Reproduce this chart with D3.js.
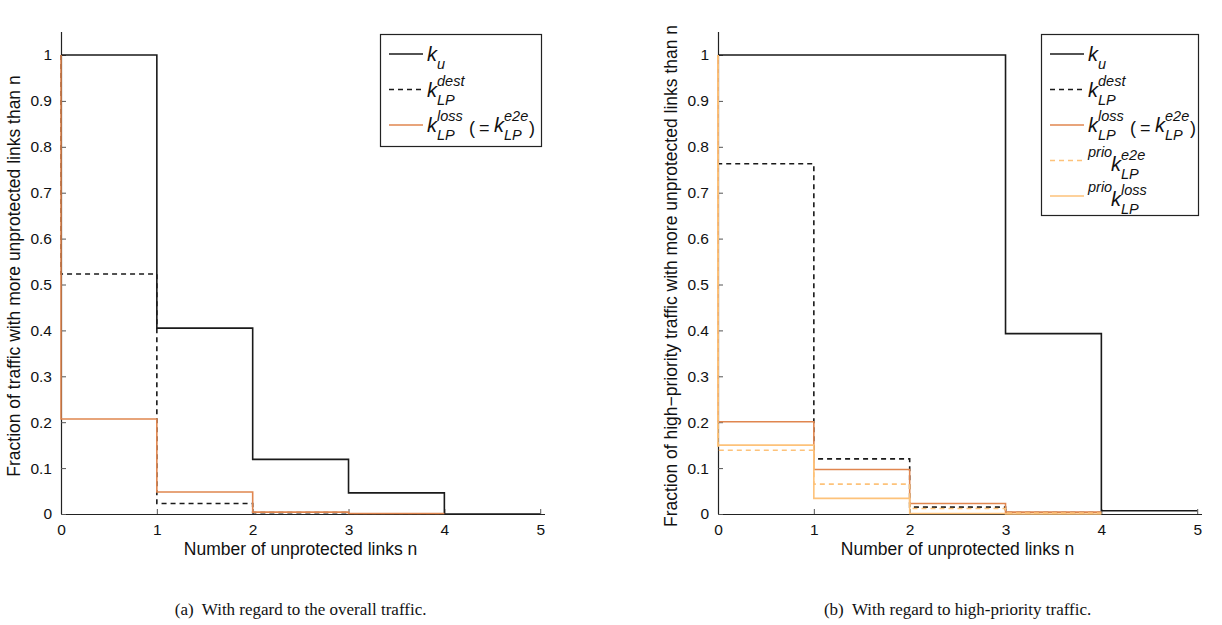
<!DOCTYPE html>
<html><head><meta charset="utf-8">
<script src="https://cdn.jsdelivr.net/npm/d3@7"></script>
<style>
body{margin:0;background:#fff;}
</style></head>
<body><svg id="c" width="1222" height="625" font-family="Liberation Sans, Arial, Helvetica, sans-serif"></svg>
<script>
// ---- data ----
const xTicks = [0,1,2,3,4,5];
const yTicks = [0,0.1,0.2,0.3,0.4,0.5,0.6,0.7,0.8,0.9,1];
const yTickLabels = ["0","0.1","0.2","0.3","0.4","0.5","0.6","0.7","0.8","0.9","1"];
// step values over [n, n+1), starting from (0,1)
const aKu    = [1, 0.405, 0.119, 0.046, 0];
const aDest  = [0.523, 0.023, 0.003, 0];
const aLoss  = [0.207, 0.048, 0.004, 0.001];
const bKu    = [1, 1, 1, 0.393, 0.007];
const bDest  = [0.763, 0.120, 0.015, 0.003];
const bLoss  = [0.201, 0.097, 0.023, 0.004];
const bPrioE2e  = [0.139, 0.065, 0.012, 0.002];
const bPrioLoss = [0.150, 0.034, 0.001, 0];
const xLabel = "Number of unprotected links n";
const yLabelA = "Fraction of traffic with more unprotected links than n";
const yLabelB = "Fraction of high\u2212priority traffic with more unprotected links than n";
const captionA = "(a)\u00a0 With regard to the overall traffic.";
const captionB = "(b)\u00a0 With regard to high-priority traffic.";

const C_BLACK = "#1a1a1a", C_ORANGE = "#e0864f", C_LIGHT = "#fdc27a";
const svg = d3.select("#c");

function stairs(vals){
  const pts = [[0,1]];
  vals.forEach((v,i)=>pts.push([i,v]));
  pts.push([vals.length, vals[vals.length-1]]);
  return pts;
}

function panel(opt){
  const g = svg.append("g");
  const x = d3.scaleLinear().domain([0,5.05]).range([opt.x0, opt.x0+484]);
  const y = d3.scaleLinear().domain([0,1.05]).range([514, 514-459*1.05]);
  const ax = d3.axisBottom(x).tickValues(xTicks).tickSize(-5).tickPadding(10).tickFormat(d3.format("d"));
  const ay = d3.axisLeft(y).tickValues(yTicks).tickSize(-5).tickPadding(9).tickFormat((d,i)=>yTickLabels[i]);
  const gx = g.append("g").attr("transform",`translate(0,${y(0)})`).call(ax);
  const gy = g.append("g").attr("transform",`translate(${x(0)},0)`).call(ay);
  [gx,gy].forEach(a=>{
    a.attr("font-family",null).attr("font-size",15.5);
    a.select(".domain").attr("stroke","#222").attr("stroke-width",1.2);
    a.selectAll(".tick line").attr("stroke","#555").attr("stroke-width",1);
    a.selectAll(".tick text").attr("fill","#111");
  });
  gx.select(".domain").attr("d",`M${x(0)},0.5H${x(5.05)}`);
  gy.select(".domain").attr("d",`M0.5,${y(0)}V${y(1.05)}`);
  const line = d3.line().x(d=>x(d[0])).y(d=>y(d[1])).curve(d3.curveStepAfter);
  opt.series.forEach(s=>{
    g.append("path").attr("d",line(stairs(s.vals))).attr("fill","none")
      .attr("stroke",s.color).attr("stroke-width",1.6)
      .attr("stroke-dasharray",s.dash?"5,4":null);
  });
  g.append("text").attr("x",x(2.5)).attr("y",555).attr("text-anchor","middle")
    .attr("font-size",17.5).attr("fill","#111").text(xLabel);
  g.append("text").attr("transform",`translate(${opt.x0-41},276) rotate(-90)`)
    .attr("text-anchor","middle").attr("font-size",17.5).attr("fill","#111").text(opt.ylabel);
  svg.append("text").attr("x",x(2.5)).attr("y",615).attr("text-anchor","middle")
    .attr("font-family","Liberation Serif, Times New Roman, serif").attr("font-size",17)
    .attr("fill","#111").text(opt.caption);
  const L = opt.legend;
  const lg = g.append("g");
  lg.append("rect").attr("x",L.x+0.5).attr("y",L.y+0.5).attr("width",L.w).attr("height",L.h)
    .attr("fill","#fff").attr("stroke","#222").attr("stroke-width",1.2);
  opt.series.forEach((s,i)=>{
    const ry = L.y + 20 + i*35.5;
    lg.append("line").attr("x1",L.x+9).attr("x2",L.x+43).attr("y1",ry).attr("y2",ry)
      .attr("stroke",s.color).attr("stroke-width",1.6).attr("stroke-dasharray",s.dash?"5,4":null);
    drawLabel(lg, s.label, L.x, ry);
  });
}

function T(g,x,y,txt,size,italic){
  return g.append("text").attr("x",x).attr("y",y).attr("font-size",size)
    .attr("font-style",italic?"italic":"normal").attr("fill","#111").text(txt);
}
function kSym(g,x,ry,sup,sub){
  T(g,x,ry+7,"k",20,true);
  if(sup) T(g,x+10,ry-4,sup,14.5,true);
  if(sub) T(g,x+10,ry+15,sub,14.5,true);
}
function drawLabel(g,lab,bx,ry){
  const x = bx+47;
  if(lab==="ku"){ kSym(g,x,ry,null,"u"); }
  else if(lab==="dest"){ kSym(g,x,ry,"dest","LP"); }
  else if(lab==="loss"){
    kSym(g,x,ry,"loss","LP");
    T(g,bx+89,ry+9,"(",18,false);
    T(g,bx+99,ry+9,"=",18,false);
    kSym(g,bx+114,ry,"e2e","LP");
    T(g,bx+149,ry+9,")",18,false);
  }
  else if(lab==="prioe2e"){ T(g,x,ry-4,"prio",14.5,true); kSym(g,x+23,ry+3,"e2e","LP"); }
  else if(lab==="prioloss"){ T(g,x,ry-4,"prio",14.5,true); kSym(g,x+23,ry+3,"loss","LP"); }
}

panel({x0:61, ylabel:yLabelA, caption:captionA,
  legend:{x:380,y:34,w:161,h:112},
  series:[{vals:aKu,color:C_BLACK,label:"ku"},
          {vals:aDest,color:C_BLACK,dash:true,label:"dest"},
          {vals:aLoss,color:C_ORANGE,label:"loss"}]});
panel({x0:718, ylabel:yLabelB, caption:captionB,
  legend:{x:1041,y:34,w:157,h:181},
  series:[{vals:bKu,color:C_BLACK,label:"ku"},
          {vals:bDest,color:C_BLACK,dash:true,label:"dest"},
          {vals:bLoss,color:C_ORANGE,label:"loss"},
          {vals:bPrioE2e,color:C_LIGHT,dash:true,label:"prioe2e"},
          {vals:bPrioLoss,color:C_LIGHT,label:"prioloss"}]});
</script></body></html>
